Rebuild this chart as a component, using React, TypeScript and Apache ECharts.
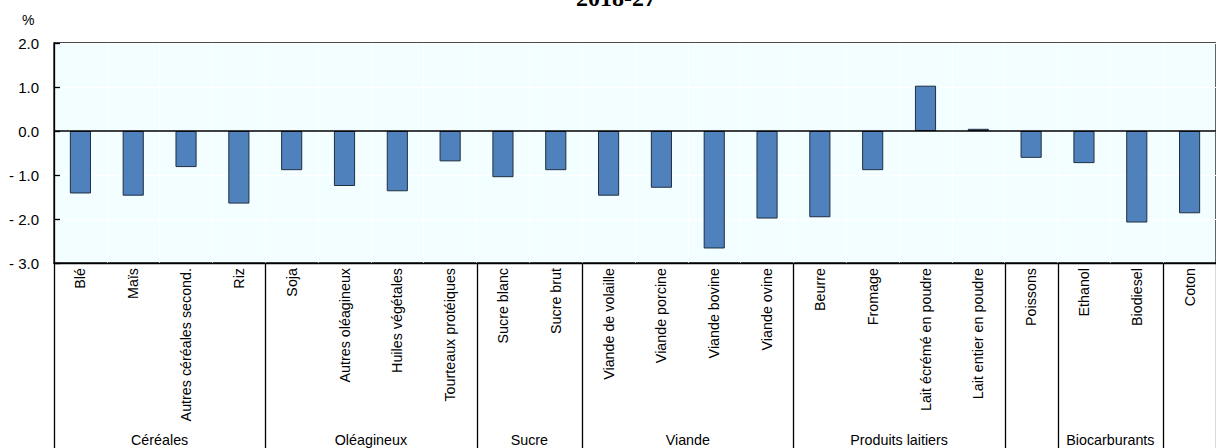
import React, { useEffect, useRef } from "react";
import * as echarts from "echarts";

const categories = [
  "Blé", "Maïs", "Autres céréales second.", "Riz",
  "Soja", "Autres oléagineux", "Huiles végétales", "Tourteaux protéiques",
  "Sucre blanc", "Sucre brut",
  "Viande de volaille", "Viande porcine", "Viande bovine", "Viande ovine",
  "Beurre", "Fromage", "Lait écrémé en poudre", "Lait entier en poudre",
  "Poissons",
  "Ethanol", "Biodiesel",
  "Coton",
];

const values = [
  -1.42, -1.47, -0.82, -1.65,
  -0.89, -1.25, -1.37, -0.69,
  -1.05, -0.89,
  -1.47, -1.29, -2.67, -1.99,
  -1.96, -0.89, 1.03, 0.05,
  -0.61,
  -0.73, -2.08,
  -1.87,
];

const groupNames = ["Céréales", "Oléagineux", "Sucre", "Viande", "Produits laitiers", "", "Biocarburants", ""];
const groupSizes = [4, 4, 2, 4, 4, 1, 2, 1];

const yTicks = [-3, -2, -1, 0, 1, 2];

const title = "2018-27";
const unit = "%";

export default function App() {
  const ref = useRef<HTMLDivElement>(null);

  useEffect(() => {
    if (!ref.current) return;
    const chart = echarts.init(ref.current, undefined, { renderer: "svg" });

    const boundaries: number[] = [0];
    const mids: number[] = [];
    const midLabel: Record<string, string> = {};
    groupSizes.forEach((s, i) => {
      const start = boundaries[boundaries.length - 1];
      const mid = start + s / 2;
      if (groupNames[i]) {
        mids.push(mid);
        midLabel[String(mid)] = groupNames[i];
      }
      boundaries.push(start + s);
    });

    const font = "'Liberation Sans', Arial, sans-serif";
    const gridTop = 43;
    const gridHeight = 220;

    chart.setOption({
      animation: false,
      title: {
        text: title,
        left: 571,
        top: -19,
        textStyle: {
          fontFamily: "'Liberation Serif', 'Times New Roman', serif",
          fontWeight: "bold",
          fontSize: 24,
          color: "#000",
        },
      },
      graphic: [
        {
          type: "text",
          left: 22,
          top: 13,
          style: { text: unit, font: `14px ${font}`, fill: "#000" },
        },
      ],
      grid: {
        left: 54,
        top: gridTop,
        width: 1175,
        height: gridHeight,
        show: true,
        backgroundColor: "#F2FEFF",
        borderColor: "#111",
        borderWidth: 1.3,
      },
      xAxis: [
        {
          type: "category",
          data: categories,
          position: "bottom",
          axisLine: { show: true, onZero: false, lineStyle: { color: "#000", width: 1.3 } },
          axisTick: { show: false },
          splitLine: { show: true, lineStyle: { color: "#FFFFFF", width: 1 } },
          axisLabel: {
            interval: 0,
            rotate: 90,
            margin: 5,
            fontSize: 14.3,
            fontFamily: font,
            color: "#000",
          },
        },
        {
          type: "value",
          min: 0,
          max: categories.length,
          position: "bottom",
          axisLine: { show: false },
          splitLine: { show: false },
          axisTick: { show: false },
          axisLabel: {
            show: true,
            customValues: mids,
            margin: 170,
            fontSize: 14.3,
            fontFamily: font,
            color: "#000",
            formatter: (v: number) => midLabel[String(v)] || "",
          },
        },
      ],
      yAxis: {
        type: "value",
        min: yTicks[0],
        max: yTicks[yTicks.length - 1],
        interval: 1,
        axisLine: { show: true, lineStyle: { color: "#000", width: 1.3 } },
        axisTick: { show: true, inside: true, length: 6, lineStyle: { color: "#000", width: 1.3 } },
        splitLine: { show: true, lineStyle: { color: "#FFFFFF", width: 1 } },
        axisLabel: {
          margin: 15,
          fontSize: 15,
          fontFamily: font,
          color: "#000",
          formatter: (v: number) => (v < 0 ? "- " + Math.abs(v).toFixed(1) : v.toFixed(1)),
        },
      },
      series: [
        {
          type: "bar",
          xAxisIndex: 0,
          data: values,
          barWidth: "40%",
          itemStyle: { color: "#4F81BD", borderColor: "#1F2F40", borderWidth: 1 },
          markLine: {
            silent: true,
            symbol: "none",
            label: { show: false },
            lineStyle: { color: "#000", width: 1.5, type: "solid" },
            data: [{ yAxis: 0 }],
          },
        },
      ],
    });

    const y0 = gridTop + gridHeight;
    const seps = boundaries.map((b) => {
      const x = Math.round(chart.convertToPixel({ xAxisIndex: 1 }, b) as number) + 0.5;
      return {
        type: "line",
        shape: { x1: x, y1: y0, x2: x, y2: 460 },
        style: { stroke: "#000", lineWidth: 1.3 },
        silent: true,
      };
    });
    chart.setOption({
      graphic: [
        {
          type: "text",
          left: 22,
          top: 13,
          style: { text: unit, font: `14px ${font}`, fill: "#000" },
        },
        ...seps,
      ],
    }, { replaceMerge: ["graphic"] });

    return () => chart.dispose();
  }, []);

  return (
    <div
      ref={ref}
      style={{ position: "absolute", left: 0, top: 0, width: 1216, height: 448, background: "#fff" }}
    />
  );
}
